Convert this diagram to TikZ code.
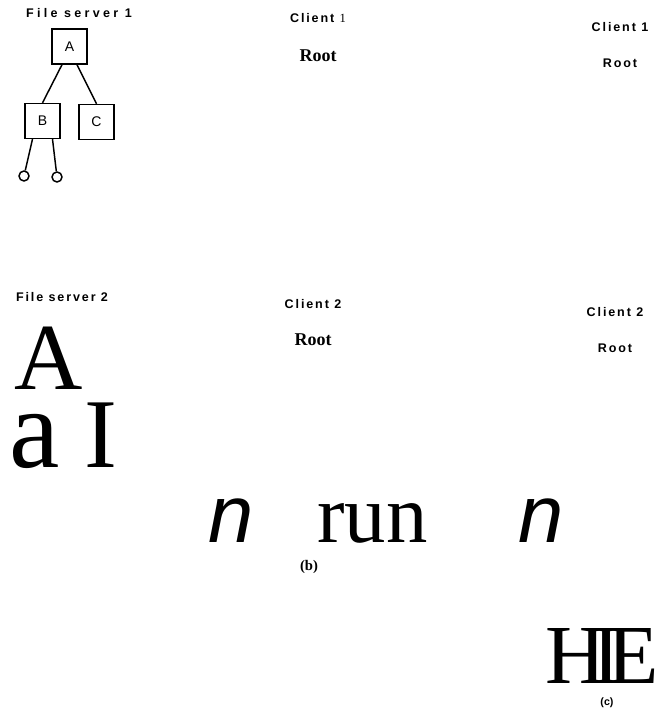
\documentclass[tikz,border=0pt]{standalone}
\usepackage{fontspec}
\setmainfont{Liberation Serif}
\setsansfont{Liberation Sans}
\newfontfamily\lblfont[LetterSpace=15]{Liberation Sans}
\newfontfamily\widelblfont[LetterSpace=26]{Liberation Sans}
\usetikzlibrary{positioning}

\begin{document}
\begin{tikzpicture}[
  x=0.75pt,y=-0.75pt,
  lbl/.style={font=\lblfont\bfseries\fontsize{9.4}{11}\selectfont,inner sep=0pt},
  rootlbl/.style={font=\bfseries\fontsize{13.5}{15}\selectfont,inner sep=0pt},
  box/.style={draw,line width=1.2pt,minimum size=26pt,inner sep=0pt,
              font=\sffamily\fontsize{10.5}{12}\selectfont},
  leaf/.style={draw,circle,line width=1.1pt,minimum size=7.5pt,inner sep=0pt},
  link/.style={line width=1.1pt},
  bigglyph/.style={inner sep=0pt,anchor=base west}
]
\useasboundingbox (0,0) rectangle (657,716);

% File server 1
\node[lbl,font=\widelblfont\bfseries\fontsize{9.4}{11}\selectfont] (fs1) at (79,13) {File server 1};
\node[box] (A) at (69.5,46.5) {A};
\node[box] (B) at (42.5,121) {B};
\node[box] (C) at (96.5,122) {C};
\node[leaf] (l1) at (24,176) {};
\node[leaf] (l2) at (57,177) {};
\draw[link] ([xshift=-5.6pt]A.south) -- (B.north);
\draw[link] ([xshift=5.6pt]A.south) -- (C.north);
\draw[link] ([xshift=-7.5pt]B.south) -- (l1);
\draw[link] ([xshift=7.5pt]B.south) -- (l2);

% Client 1
\node[lbl] (c1a) at (318,18) {Client {\rmfamily\mdseries 1}};
\node[rootlbl,below=28.5pt of c1a.center,anchor=center] (r1a) {Root};
\node[lbl] (c1b) at (620,27) {Client 1};
\node[lbl,below=27pt of c1b.center,anchor=center] (r1b) {Root};

% File server 2
\node[lbl] (fs2) at (62,297) {File server 2};
\node[bigglyph,font=\fontsize{71}{71}\selectfont] (gA) at (14,389) {A};
\node[bigglyph,font=\fontsize{85}{85}\selectfont] (ga) at (9,467) {a};
\node[bigglyph,font=\fontsize{74}{74}\selectfont] (gI) at (84,467) {I};

% Client 2
\node[lbl] (c2a) at (313,304) {Client 2};
\node[rootlbl,below=27pt of c2a.center,anchor=center] (r2a) {Root};
\node[lbl] (c2b) at (615,312) {Client 2};
\node[lbl,below=27pt of c2b.center,anchor=center] (r2b) {Root};

% (b)
\node[bigglyph,font=\sffamily\itshape\fontsize{61}{61}\selectfont] (n1) at (208,542) {n};
\node[bigglyph,font=\fontsize{62}{62}\selectfont] (run) at (317,542) {run};
\node[bigglyph,font=\sffamily\itshape\fontsize{61}{61}\selectfont] (n2) at (518,542) {n};
\node[rootlbl,font=\bfseries\fontsize{11}{12}\selectfont] (capb) at (309,567) {(b)};

% (c)
\node[bigglyph,font=\fontsize{63}{63}\selectfont] (hie) at (545,683) {H\kern-10ptI\kern-10ptE};
\node[lbl,font=\sffamily\bfseries\fontsize{8}{9}\selectfont] (capc) at (607,703) {(c)};
\end{tikzpicture}
\end{document}
